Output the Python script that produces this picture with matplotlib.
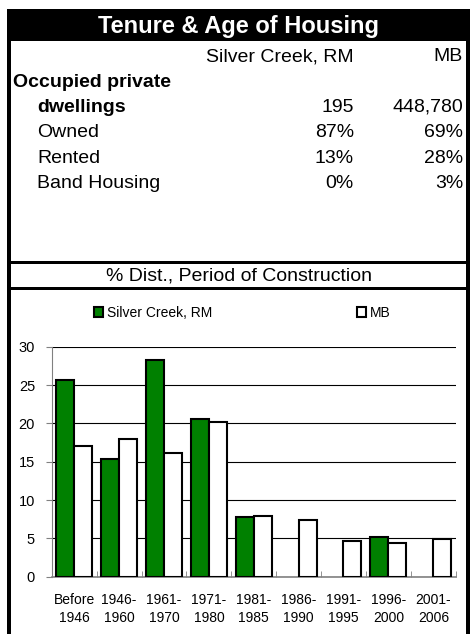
import numpy as np
import matplotlib
matplotlib.use('Agg')
import matplotlib.pyplot as plt
from matplotlib.patches import Rectangle

plt.rcParams['font.family'] = ['Liberation Sans', 'DejaVu Sans']

# table data
title = 'Tenure & Age of Housing'
col_names = ['Silver Creek, RM', 'MB']
row_labels = ['Occupied private', 'dwellings', 'Owned', 'Rented', 'Band Housing']
sc_vals = ['', '195', '87%', '13%', '0%']
mb_vals = ['', '448,780', '69%', '28%', '3%']

# chart data
chart_title = '% Dist., Period of Construction'
periods = ['Before\n1946', '1946-\n1960', '1961-\n1970', '1971-\n1980', '1981-\n1985',
           '1986-\n1990', '1991-\n1995', '1996-\n2000', '2001-\n2006']
sc_pct = [25.6, 15.4, 28.3, 20.6, 7.8, 0, 0, 5.2, 0]
mb_pct = [17.0, 17.9, 16.1, 20.2, 7.9, 7.4, 4.7, 4.4, 4.9]

W, H = 474, 634
fig = plt.figure(figsize=(W / 100, H / 100), dpi=100)

# overlay in pixel coords for the table part and frame
ov = fig.add_axes([0, 0, 1, 1])
ov.set_xlim(0, W)
ov.set_ylim(H, 0)
ov.axis('off')

lw_frame = 4 * 0.72
ov.add_patch(Rectangle((7.3, 9), 470 - 7.3, 31.7, facecolor='black', edgecolor='none'))
ov.plot([9.3, 9.3], [9, H + 5], color='black', lw=lw_frame, solid_capstyle='butt')
ov.plot([468, 468], [9, H + 5], color='black', lw=lw_frame, solid_capstyle='butt')
for yl in [261.5, 287.5]:
    ov.plot([9.3, 468], [yl, yl], color='black', lw=3 * 0.72, solid_capstyle='butt')

ov.text(239, 32.9, title, color='white', fontsize=17, fontweight='bold',
        ha='center', va='baseline')

fs = 14
ov.text(354, 61.4, col_names[0], fontsize=fs, ha='right', va='baseline')
ov.text(463, 61.4, col_names[1], fontsize=fs, ha='right', va='baseline')
row_y = [86.7, 112.0, 137.3, 162.6, 187.9]
for i, lab in enumerate(row_labels):
    bold = i < 2
    x = 13 if i == 0 else 37
    ov.text(x, row_y[i], lab, fontsize=fs, ha='left', va='baseline',
            fontweight='bold' if bold else 'normal')
    ov.text(354, row_y[i], sc_vals[i], fontsize=fs, ha='right', va='baseline')
    ov.text(463, row_y[i], mb_vals[i], fontsize=fs, ha='right', va='baseline')

ov.text(239, 280.2, chart_title, fontsize=fs, ha='center', va='baseline')

# bar chart
left, right, top, bottom = 51.7, 456, 346.7, 576.7
ax = fig.add_axes([left / W, 1 - bottom / H, (right - left) / W, (bottom - top) / H])
ax.patch.set_alpha(0)

x = np.arange(len(periods))
bw = 0.4
b1 = ax.bar(x - 0.205, sc_pct, bw, color='#008000', edgecolor='black', lw=1.5,
            label='Silver Creek, RM', zorder=3)
b2 = ax.bar(x + 0.195, mb_pct, bw, color='white', edgecolor='black', lw=1.5,
            label='MB', zorder=3)
for r in list(b1) + list(b2):
    if r.get_height() == 0:
        r.set_visible(False)

ax.set_xlim(-0.5, len(periods) - 0.5)
ax.set_ylim(0, 30)
ax.set_yticks(np.arange(0, 31, 5))
ax.yaxis.grid(True, color='black', lw=0.8)
ax.set_axisbelow(True)
ax.tick_params(axis='y', labelsize=10.5, length=4, color='#808080', pad=8)
ax.set_xticks(x)
ax.set_xticklabels(periods, fontsize=10, linespacing=1.3)
ax.tick_params(axis='x', length=0, pad=12)
ax.set_xticks(np.arange(-0.5, len(periods), 1), minor=True)
ax.tick_params(axis='x', which='minor', direction='in', length=4, color='#808080')
for s in ['top', 'right']:
    ax.spines[s].set_visible(False)
ax.spines['left'].set_color('#808080')
ax.spines['bottom'].set_color('#808080')
ax.spines['bottom'].set_linewidth(1.2)

fig.legend(handles=[b1, b2], loc='center left', bbox_to_anchor=(94 / W, 1 - 313 / H),
           ncol=2, frameon=False, fontsize=10, handlelength=0.65, handleheight=0.65,
           handletextpad=0.3, columnspacing=10.4, borderpad=0, borderaxespad=0)

fig.savefig('out.png', dpi=100)
